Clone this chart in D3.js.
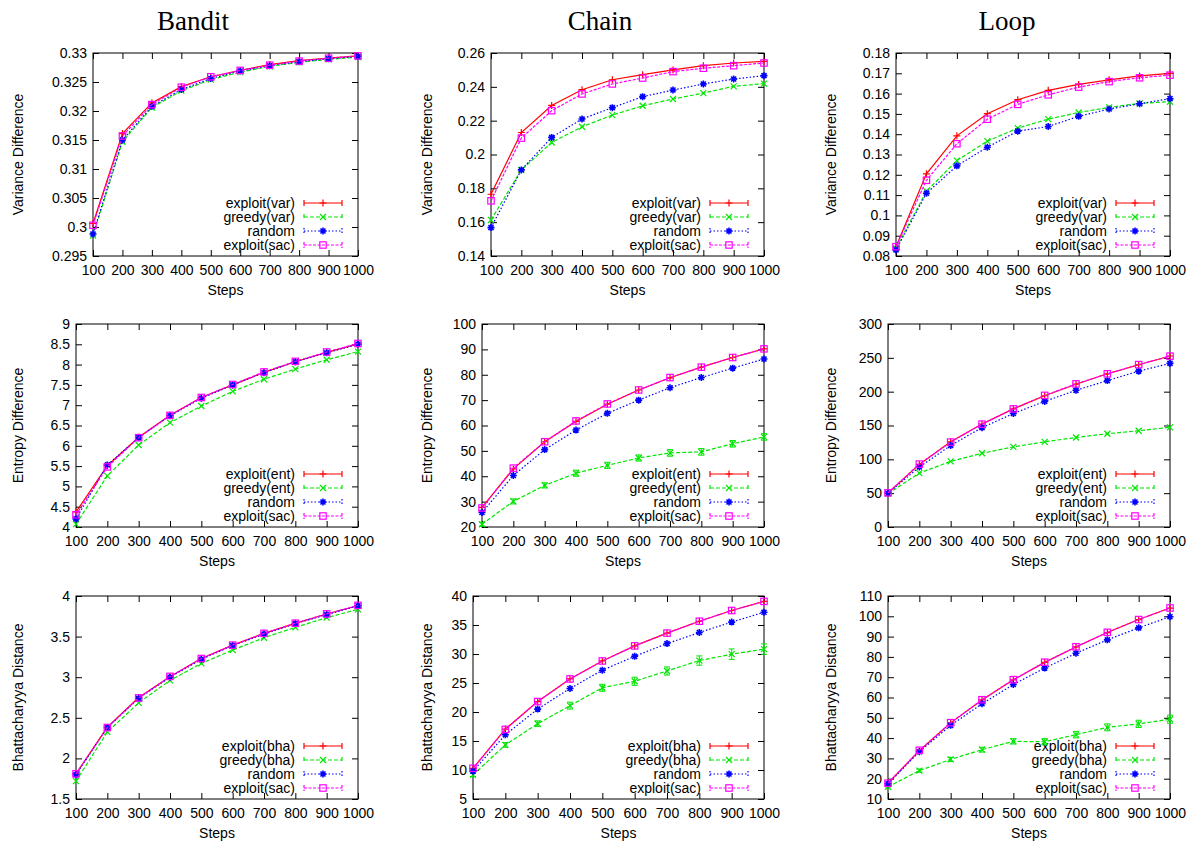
<!DOCTYPE html>
<html>
<head>
<meta charset="utf-8">
<script src="https://cdn.jsdelivr.net/npm/d3@7"></script>
<style>
  body { margin: 0; background: #fff; }
  text { font-family: "Liberation Sans", Arial, sans-serif; }
</style>
</head>
<body>
<div id="my_dataviz"></div>
<script>
// x values shared by every panel
var steps = [100, 200, 300, 400, 500, 600, 700, 800, 900, 1000];
var columnTitles = ["Bandit", "Chain", "Loop"];
var rowLabels = ["Variance Difference", "Entropy Difference", "Bhattacharyya Distance"];
var rowKeys = ["var", "ent", "bha"];

// y tick labels per panel
var banditVarTicks = [0.295, 0.3, 0.305, 0.31, 0.315, 0.32, 0.325, 0.33];
var chainVarTicks = [0.14, 0.16, 0.18, 0.2, 0.22, 0.24, 0.26];
var loopVarTicks = [0.08, 0.09, 0.1, 0.11, 0.12, 0.13, 0.14, 0.15, 0.16, 0.17, 0.18];
var banditEntTicks = [4, 4.5, 5, 5.5, 6, 6.5, 7, 7.5, 8, 8.5, 9];
var chainEntTicks = [20, 30, 40, 50, 60, 70, 80, 90, 100];
var loopEntTicks = [0, 50, 100, 150, 200, 250, 300];
var banditBhaTicks = [1.5, 2, 2.5, 3, 3.5, 4];
var chainBhaTicks = [5, 10, 15, 20, 25, 30, 35, 40];
var loopBhaTicks = [10, 20, 30, 40, 50, 60, 70, 80, 90, 100, 110];

// Bandit / variance
var banditVarExploit = [0.3006, 0.3161, 0.3214, 0.3242, 0.3259, 0.3270, 0.3280, 0.3287, 0.3291, 0.3295];
var banditVarGreedy = [0.2985, 0.3147, 0.3206, 0.3235, 0.3254, 0.3267, 0.3277, 0.3284, 0.3289, 0.3293];
var banditVarRandom = [0.2988, 0.3150, 0.3208, 0.3237, 0.3256, 0.3269, 0.3278, 0.3285, 0.3290, 0.3294];
var banditVarSac = [0.3003, 0.3157, 0.3211, 0.3241, 0.3259, 0.3270, 0.3279, 0.3286, 0.3291, 0.3295];
// Chain / variance
var chainVarExploit = [0.1765, 0.2130, 0.2290, 0.2383, 0.2442, 0.2472, 0.2500, 0.2525, 0.2541, 0.2551];
var chainVarGreedy = [0.1613, 0.1909, 0.2071, 0.2164, 0.2233, 0.2288, 0.2328, 0.2363, 0.2403, 0.2419];
var chainVarRandom = [0.1568, 0.1909, 0.2101, 0.2210, 0.2277, 0.2342, 0.2381, 0.2417, 0.2446, 0.2466];
var chainVarSac = [0.1726, 0.2097, 0.2259, 0.2358, 0.2417, 0.2452, 0.2490, 0.2510, 0.2525, 0.2541];
// Loop / variance
var loopVarExploit = [0.0846, 0.1205, 0.1392, 0.1501, 0.1570, 0.1616, 0.1645, 0.1668, 0.1687, 0.1700];
var loopVarGreedy = [0.0838, 0.1119, 0.1270, 0.1366, 0.1430, 0.1474, 0.1507, 0.1532, 0.1552, 0.1560];
var loopVarRandom = [0.0830, 0.1109, 0.1244, 0.1336, 0.1415, 0.1438, 0.1488, 0.1524, 0.1550, 0.1575];
var loopVarSac = [0.0846, 0.1173, 0.1353, 0.1474, 0.1547, 0.1594, 0.1632, 0.1659, 0.1678, 0.1691];
// Bandit / entropy
var banditEntExploit = [4.37, 5.51, 6.21, 6.75, 7.19, 7.50, 7.81, 8.07, 8.30, 8.51];
var banditEntGreedy = [4.07, 5.26, 6.02, 6.57, 6.98, 7.34, 7.64, 7.89, 8.12, 8.32];
var banditEntRandom = [4.20, 5.53, 6.20, 6.74, 7.17, 7.50, 7.80, 8.07, 8.29, 8.50];
var banditEntSac = [4.30, 5.48, 6.20, 6.75, 7.19, 7.51, 7.82, 8.08, 8.31, 8.52];
// Chain / entropy
var chainEntExploit = [27.7, 42.9, 53.6, 61.6, 68.4, 74.0, 78.8, 83.0, 86.8, 90.2];
var chainEntGreedy = [21.1, 30.1, 36.4, 41.2, 44.3, 47.2, 49.2, 49.6, 52.8, 55.5];
var chainEntRandom = [25.7, 40.3, 50.5, 58.2, 64.8, 70.0, 74.9, 78.9, 82.6, 86.2];
var chainEntSac = [27.5, 43.2, 53.6, 61.8, 68.5, 74.0, 78.9, 83.0, 86.8, 90.2];
var chainEntGreedyErr = [0.8, 1.0, 1.0, 1.2, 1.2, 1.2, 1.3, 1.3, 1.3, 1.3];
// Loop / entropy
var loopEntExploit = [50.2, 92.5, 125.9, 152.2, 174.6, 194.0, 211.0, 226.4, 239.8, 252.7];
var loopEntGreedy = [49.3, 79.6, 97.0, 109.0, 118.4, 125.9, 132.3, 137.8, 142.3, 147.3];
var loopEntRandom = [49.8, 88.6, 120.4, 146.8, 167.7, 185.6, 202.0, 216.4, 230.3, 241.8];
var loopEntSac = [50.5, 93.0, 125.5, 152.0, 174.5, 194.5, 211.5, 226.4, 240.0, 252.5];
// Bandit / bhattacharyya
var banditBhaExploit = [1.81, 2.385, 2.75, 3.005, 3.23, 3.395, 3.54, 3.663, 3.778, 3.88];
var banditBhaGreedy = [1.72, 2.326, 2.684, 2.96, 3.17, 3.334, 3.486, 3.614, 3.733, 3.836];
var banditBhaRandom = [1.80, 2.38, 2.74, 3.00, 3.22, 3.39, 3.53, 3.66, 3.77, 3.88];
var banditBhaSac = [1.81, 2.38, 2.745, 3.01, 3.23, 3.395, 3.54, 3.665, 3.78, 3.885];
// Chain / bhattacharyya
var chainBhaExploit = [10.27, 17.05, 21.8, 25.7, 28.8, 31.4, 33.6, 35.65, 37.5, 39.07];
var chainBhaGreedy = [9.17, 14.33, 17.98, 21.1, 24.18, 25.3, 27.07, 28.87, 29.97, 30.84];
var chainBhaRandom = [9.8, 16.07, 20.5, 24.06, 27.2, 29.6, 31.8, 33.7, 35.5, 37.2];
var chainBhaSac = [10.3, 17.0, 21.8, 25.7, 28.8, 31.4, 33.6, 35.65, 37.5, 39.07];
var chainBhaGreedyErr = [0.3, 0.4, 0.5, 0.6, 0.6, 0.7, 0.7, 0.8, 0.9, 0.9];
// Loop / bhattacharyya
var loopBhaExploit = [17.76, 33.8, 47.5, 58.8, 68.7, 77.3, 84.9, 92.0, 98.4, 104.06];
var loopBhaGreedy = [15.94, 24.0, 29.5, 34.3, 38.4, 38.2, 41.7, 45.3, 47.0, 49.3];
var loopBhaRandom = [17.5, 33.3, 46.3, 56.9, 66.4, 74.5, 81.8, 88.4, 94.3, 99.8];
var loopBhaSac = [17.8, 34.0, 47.6, 58.9, 68.8, 77.4, 85.0, 92.1, 98.4, 104.1];
var loopBhaGreedyErr = [0.5, 0.8, 1.0, 1.2, 1.3, 1.5, 1.6, 1.7, 1.8, 2.0];

// panels in row order, each with its four series
var panels = [
  { ticks: banditVarTicks, series: [banditVarExploit, banditVarGreedy, banditVarRandom, banditVarSac] },
  { ticks: chainVarTicks, series: [chainVarExploit, chainVarGreedy, chainVarRandom, chainVarSac] },
  { ticks: loopVarTicks, series: [loopVarExploit, loopVarGreedy, loopVarRandom, loopVarSac] },
  { ticks: banditEntTicks, series: [banditEntExploit, banditEntGreedy, banditEntRandom, banditEntSac] },
  { ticks: chainEntTicks, series: [chainEntExploit, chainEntGreedy, chainEntRandom, chainEntSac], errors: [null, chainEntGreedyErr, null, null] },
  { ticks: loopEntTicks, series: [loopEntExploit, loopEntGreedy, loopEntRandom, loopEntSac] },
  { ticks: banditBhaTicks, series: [banditBhaExploit, banditBhaGreedy, banditBhaRandom, banditBhaSac] },
  { ticks: chainBhaTicks, series: [chainBhaExploit, chainBhaGreedy, chainBhaRandom, chainBhaSac], errors: [null, chainBhaGreedyErr, null, null] },
  { ticks: loopBhaTicks, series: [loopBhaExploit, loopBhaGreedy, loopBhaRandom, loopBhaSac], errors: [null, loopBhaGreedyErr, null, null] }
];

// layout: plot frames [left, top, right, bottom]
var frames = [
  [93, 53, 358, 256], [491, 53, 764, 256], [896, 53, 1170, 256],
  [76, 324, 358, 527], [482, 324, 764, 527], [888, 324, 1170, 527],
  [76, 596, 358, 799], [473, 596, 764, 799], [888, 596, 1170, 799]
];
var yLabelX = [18, 427, 831];
var titleX = [193, 600, 1007];

var colors = ["#ff0000", "#00e600", "#0000ff", "#ff00ff"];
var dashes = [null, "4,2", "1.5,2", "3,1.5"];

var svg = d3.select("#my_dataviz")
  .append("svg")
    .attr("width", 1197)
    .attr("height", 841);

columnTitles.forEach(function(t, i) {
  svg.append("text")
    .attr("x", titleX[i]).attr("y", 30)
    .attr("text-anchor", "middle")
    .style("font-family", "'Liberation Serif', 'DejaVu Serif', serif")
    .style("font-size", "27px")
    .text(t);
});

function fmt(v) { return String(+v.toFixed(4)); }

function drawMarker(g, type, cx, cy, color) {
  if (type == 0) { // plus
    g.append("path").attr("d", `M${cx-3.5},${cy}H${cx+3.5}M${cx},${cy-3.5}V${cy+3.5}`)
      .attr("stroke", color).attr("stroke-width", 1.2).attr("fill", "none");
  } else if (type == 1) { // cross
    g.append("path").attr("d", `M${cx-3},${cy-3}L${cx+3},${cy+3}M${cx-3},${cy+3}L${cx+3},${cy-3}`)
      .attr("stroke", color).attr("stroke-width", 1.2).attr("fill", "none");
  } else if (type == 2) { // star
    g.append("path").attr("d", `M${cx-3.5},${cy}H${cx+3.5}M${cx},${cy-3.5}V${cy+3.5}M${cx-2.5},${cy-2.5}L${cx+2.5},${cy+2.5}M${cx-2.5},${cy+2.5}L${cx+2.5},${cy-2.5}`)
      .attr("stroke", color).attr("stroke-width", 1.6).attr("fill", "none");
  } else { // open square
    g.append("rect").attr("x", cx-3.2).attr("y", cy-3.2).attr("width", 6.4).attr("height", 6.4)
      .attr("stroke", color).attr("stroke-width", 1.2).attr("fill", "none");
  }
}

panels.forEach(function(p, idx) {
  var row = Math.floor(idx / 3), col = idx % 3;
  var f = frames[idx];
  var left = f[0], top = f[1], right = f[2], bottom = f[3];
  var g = svg.append("g");

  var x = d3.scaleLinear().domain([100, 1000]).range([left, right]);
  var y = d3.scaleLinear().domain([p.ticks[0], p.ticks[p.ticks.length - 1]]).range([bottom, top]);

  // axes with inward ticks on all four sides
  var ax = [
    g.append("g").attr("transform", `translate(${left},0)`).call(d3.axisLeft(y).tickValues(p.ticks).tickSize(-6).tickPadding(6).tickFormat(fmt)),
    g.append("g").attr("transform", `translate(${right},0)`).call(d3.axisRight(y).tickValues(p.ticks).tickSize(-6).tickFormat("")),
    g.append("g").attr("transform", `translate(0,${bottom})`).call(d3.axisBottom(x).tickValues(steps).tickSize(-6).tickPadding(9).tickFormat(d3.format("d"))),
    g.append("g").attr("transform", `translate(0,${top})`).call(d3.axisTop(x).tickValues(steps).tickSize(-6).tickFormat(""))
  ];
  ax.forEach(function(a) {
    a.select(".domain").remove();
    a.selectAll("text").style("font-size", "14px").style("font-family", "'Liberation Sans', Arial, sans-serif").attr("fill", "#000");
    a.selectAll("line").attr("stroke", "#000");
  });

  g.append("rect")
    .attr("x", left).attr("y", top)
    .attr("width", right - left).attr("height", bottom - top)
    .attr("fill", "none").attr("stroke", "#000").attr("stroke-width", 1);

  g.append("text")
    .attr("x", (left + right) / 2).attr("y", bottom + 39)
    .attr("text-anchor", "middle")
    .style("font-size", "14px")
    .text("Steps");

  g.append("text")
    .attr("transform", `translate(${yLabelX[col]},${(top + bottom) / 2}) rotate(-90)`)
    .attr("text-anchor", "middle")
    .attr("dy", "0.35em")
    .style("font-size", "14px")
    .text(rowLabels[row]);

  var names = ["exploit(" + rowKeys[row] + ")", "greedy(" + rowKeys[row] + ")", "random", "exploit(sac)"];

  // legend
  names.forEach(function(n, s) {
    var ly = bottom - 53 + s * 14;
    g.append("text")
      .attr("x", right - 63).attr("y", ly)
      .attr("dy", "0.35em")
      .attr("text-anchor", "end")
      .style("font-size", "14px")
      .text(n);
    var x0 = right - 54, x1 = right - 16;
    g.append("path")
      .attr("d", `M${x0},${ly}H${x1}M${x0},${ly-3}V${ly+3}M${x1},${ly-3}V${ly+3}`)
      .attr("stroke", colors[s]).attr("stroke-width", 1.2).attr("fill", "none")
      .attr("stroke-dasharray", dashes[s]);
    drawMarker(g, s, (x0 + x1) / 2, ly, colors[s]);
  });

  // series
  p.series.forEach(function(vals, s) {
    var data = steps.map(function(st, i) { return { x: st, y: vals[i] }; });
    g.append("path")
      .datum(data)
      .attr("fill", "none")
      .attr("stroke", colors[s])
      .attr("stroke-width", 1.2)
      .attr("stroke-dasharray", dashes[s])
      .attr("d", d3.line()
        .x(function(d) { return x(d.x) })
        .y(function(d) { return y(d.y) }));
    var errs = p.errors ? p.errors[s] : null;
    if (errs) {
      data.forEach(function(d, i) {
        var y0 = y(d.y - errs[i]), y1 = y(d.y + errs[i]), cx = x(d.x);
        g.append("path")
          .attr("d", `M${cx},${y0}V${y1}M${cx-3},${y0}H${cx+3}M${cx-3},${y1}H${cx+3}`)
          .attr("stroke", colors[s]).attr("stroke-width", 1).attr("fill", "none");
      });
    }
    data.forEach(function(d) {
      drawMarker(g, s, x(d.x), y(d.y), colors[s]);
    });
  });
});
</script>
</body>
</html>
